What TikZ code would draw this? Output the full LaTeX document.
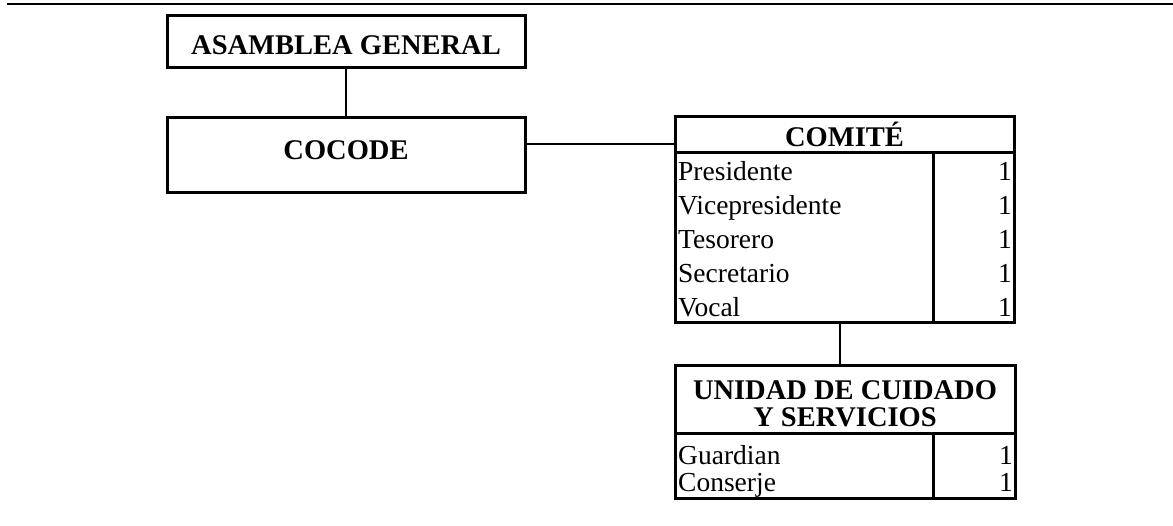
\documentclass[tikz,border=0pt]{standalone}
\usepackage{fontspec}
\setmainfont{Liberation Serif}
\usetikzlibrary{calc}
\begin{document}
\begin{tikzpicture}[x=1pt,y=-1pt,
  box/.style={draw,line width=3pt,inner sep=0pt,outer sep=0pt},
  headtxt/.style={font=\fontsize{28.5}{27.5}\selectfont\bfseries,inner sep=0pt,align=center},
  rowtxt/.style={font=\fontsize{27.5}{30}\selectfont,inner sep=0pt,anchor=base west},
  numtxt/.style={font=\fontsize{27.5}{30}\selectfont,inner sep=0pt,anchor=base east},
  conn/.style={line width=2pt}]
\useasboundingbox (0,0) rectangle (1173,525);
% top rule
\coordinate (rl) at (7,4);
\coordinate (rr) at (1173,4);
\draw[line width=2.5pt] (rl) -- (rr);
% left boxes
\node[box,minimum width=358pt,minimum height=52pt] (asamblea) at (346,41) {};
\node[headtxt] at ($(asamblea.center)+(0,-4pt)$) {ASAMBLEA GENERAL};
\node[box,minimum width=358pt,minimum height=75pt] (cocode) at (346,154.5) {};
\node[headtxt] at ($(cocode.center)+(0,4pt)$) {COCODE};
% comite
\node[box,minimum width=339pt,minimum height=36pt] (comitehead) at (844.5,134) {};
\node[headtxt] at (comitehead.center) {COMITÉ};
\node[box,minimum width=339pt,minimum height=170pt] (comite) at (844.5,237) {};
\node[box,minimum width=81pt,minimum height=170pt] (comitenum) at (973.5,237) {};
\foreach \t [count=\i] in {Presidente,Vicepresidente,Tesorero,Secretario,Vocal}{
  \node[rowtxt] (cr\i) at (678,{152+34*\i-6}) {\t};
  \node[numtxt] (cn\i) at (1012,{152+34*\i-6}) {1};
}
% unidad
\node[box,minimum width=340pt,minimum height=68pt] (unidadhead) at (845,399) {};
\node[headtxt] at ($(unidadhead.center)+(0,-5pt)$) {UNIDAD DE CUIDADO\\Y SERVICIOS};
\node[box,minimum width=340pt,minimum height=65pt] (unidad) at (845,465.5) {};
\node[box,minimum width=82pt,minimum height=65pt] (unidadnum) at (974,465.5) {};
\node[rowtxt] (ur1) at (678,464) {Guardian};
\node[numtxt] (un1) at (1013,464) {1};
\node[rowtxt] (ur2) at (678,491) {Conserje};
\node[numtxt] (un2) at (1013,491) {1};
% connectors
\draw[conn] (asamblea.south) -- (cocode.north);
\coordinate (cj) at ($(cocode.east)+(0,10.5pt)$);
\draw[conn] (cj) -- (cj -| comitehead.west);
\coordinate (cs) at ($(comite.south)+(-5,0)$);
\draw[conn] (cs) -- (cs |- unidadhead.north);
\end{tikzpicture}
\end{document}
